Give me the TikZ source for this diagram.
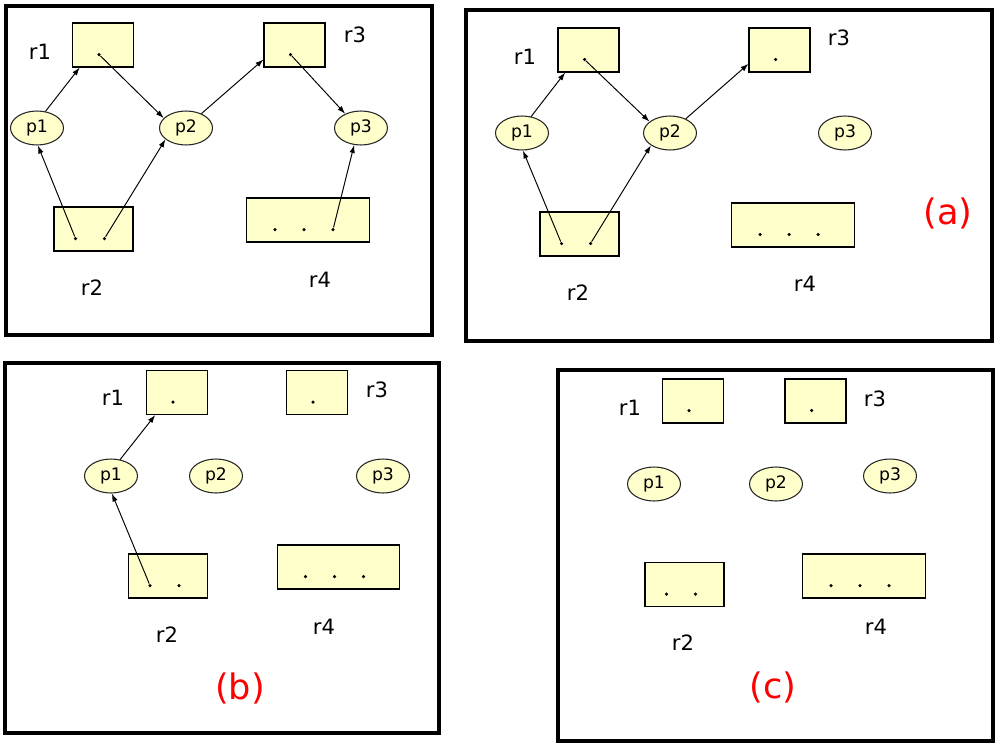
\documentclass[tikz,border=0pt]{standalone}
\usepackage{fontspec}
\setmainfont{DejaVu Sans}
\usetikzlibrary{shapes.geometric,arrows.meta}
\definecolor{boxfill}{HTML}{FFFFCC}
\begin{document}
\begin{tikzpicture}[x=0.02cm,y=-0.02cm,
  panel/.style={draw,line width=2pt},
  rbox/.style={draw,fill=boxfill,line width=0.6pt,minimum height=0.88cm,inner sep=0pt},
  sbox/.style={rbox,minimum width=1.22cm},
  mbox/.style={rbox,minimum width=1.58cm},
  wbox/.style={rbox,minimum width=2.45cm},
  proc/.style={ellipse,draw=black!85,fill=boxfill,line width=0.6pt,minimum width=1.06cm,minimum height=0.68cm,inner sep=0pt,font=\fontsize{9.8}{11}\selectfont},
  rdot/.style={circle,fill=black,inner sep=0pt,minimum size=0.07cm},
  lbl/.style={font=\fontsize{12}{14}\selectfont,inner sep=0pt},
  redtag/.style={font=\fontsize{20}{24}\selectfont,text=red,inner sep=0pt},
  arr/.style={-{Latex[length=1.6mm,width=1.1mm]},line width=0.55pt}]
\useasboundingbox (0,0) rectangle (1001,751);

% ---------- Panel A (top left) ----------
\draw[panel] (6,6) rectangle (432,335);
\node[sbox] (A-r1) at (103,45) {};
\node[sbox] (A-r3) at (294.5,45) {};
\node[mbox] (A-r2) at (93.5,229) {};
\node[wbox] (A-r4) at (308,220) {};
\node[proc] (A-p1) at (37,128) {p1};
\node[proc] (A-p2) at (186,128) {p2};
\node[proc] (A-p3) at (361,128) {p3};
\node[rdot] (A-r1d) at (99,54.5) {};
\node[rdot] (A-r3d) at (290.5,54.5) {};
\node[rdot] (A-r2d1) at (75.5,238.5) {};
\node[rdot] (A-r2d2) at (104.5,238.5) {};
\node[rdot] (A-r4d1) at (275,229.5) {};
\node[rdot] (A-r4d2) at (304,229.5) {};
\node[rdot] (A-r4d3) at (333,229.5) {};
\node[lbl] (A-l1) at (40,52) {r1};
\node[lbl] (A-l3) at (355,35) {r3};
\node[lbl] (A-l2) at (92,288) {r2};
\node[lbl] (A-l4) at (320,280) {r4};
\draw[arr] (A-p1.63) -- (A-r1.224);
\draw[arr] (A-r1d) -- (A-p2.156);
\draw[arr] (A-p2.43) -- (A-r3.205);
\draw[arr] (A-r3d) -- (A-p3.138);
\draw[arr] (A-r2d1) -- (A-p1.273);
\draw[arr] (A-r2d2) -- (A-p2.209);
\draw[arr] (A-r4d3) -- (A-p3.248);

% ---------- Panel B (a) ----------
\draw[panel] (466,10) rectangle (992,341);
\node[sbox] (B-r1) at (588.5,50) {};
\node[sbox] (B-r3) at (779.5,50) {};
\node[mbox] (B-r2) at (579.5,234) {};
\node[wbox] (B-r4) at (793,225) {};
\node[proc] (B-p1) at (522,133) {p1};
\node[proc] (B-p2) at (670,133) {p2};
\node[proc] (B-p3) at (845,133) {p3};
\node[rdot] (B-r1d) at (584.5,59.5) {};
\node[rdot] (B-r3d) at (775.5,59.5) {};
\node[rdot] (B-r2d1) at (561.5,243.5) {};
\node[rdot] (B-r2d2) at (590.5,243.5) {};
\node[rdot] (B-r4d1) at (760,234.5) {};
\node[rdot] (B-r4d2) at (789,234.5) {};
\node[rdot] (B-r4d3) at (818,234.5) {};
\node[lbl] (B-l1) at (525,57) {r1};
\node[lbl] (B-l3) at (839,38) {r3};
\node[lbl] (B-l2) at (578,293) {r2};
\node[lbl] (B-l4) at (805,284) {r4};
\node[redtag] (B-tag) at (948,213) {(a)};
\draw[arr] (B-p1.61) -- (B-r1.224);
\draw[arr] (B-r1d) -- (B-p2.151);
\draw[arr] (B-p2.42) -- (B-r3.204);
\draw[arr] (B-r2d1) -- (B-p1.273);
\draw[arr] (B-r2d2) -- (B-p2.213);

% ---------- Panel C (b) ----------
\draw[panel] (5,363) rectangle (439,733);
\node[sbox] (C-r1) at (177,392.5) {};
\node[sbox] (C-r3) at (317,392.5) {};
\node[mbox] (C-r2) at (168,576) {};
\node[wbox] (C-r4) at (338.5,567) {};
\node[proc] (C-p1) at (111,476) {p1};
\node[proc] (C-p2) at (216,476) {p2};
\node[proc] (C-p3) at (383,476) {p3};
\node[rdot] (C-r1d) at (173,402) {};
\node[rdot] (C-r3d) at (313,402) {};
\node[rdot] (C-r2d1) at (150,585.5) {};
\node[rdot] (C-r2d2) at (179,585.5) {};
\node[rdot] (C-r4d1) at (305.5,576.5) {};
\node[rdot] (C-r4d2) at (334.5,576.5) {};
\node[rdot] (C-r4d3) at (363.5,576.5) {};
\node[lbl] (C-l1) at (113,398) {r1};
\node[lbl] (C-l3) at (377,390) {r3};
\node[lbl] (C-l2) at (167,635) {r2};
\node[lbl] (C-l4) at (324,627) {r4};
\node[redtag] (C-tag) at (240,688) {(b)};
\draw[arr] (C-p1.61) -- (C-r1.226);
\draw[arr] (C-r2d1) -- (C-p1.273);

% ---------- Panel D (c) ----------
\draw[panel] (558,370) rectangle (993,741);
\node[sbox] (D-r1) at (693,401) {};
\node[sbox] (D-r3) at (815.5,401) {};
\node[mbox] (D-r2) at (684.5,584.5) {};
\node[wbox] (D-r4) at (864,576) {};
\node[proc] (D-p1) at (654,484) {p1};
\node[proc] (D-p2) at (776,484) {p2};
\node[proc] (D-p3) at (890,476) {p3};
\node[rdot] (D-r1d) at (689,410.5) {};
\node[rdot] (D-r3d) at (811.5,410.5) {};
\node[rdot] (D-r2d1) at (666.5,594) {};
\node[rdot] (D-r2d2) at (695.5,594) {};
\node[rdot] (D-r4d1) at (831,585.5) {};
\node[rdot] (D-r4d2) at (860,585.5) {};
\node[rdot] (D-r4d3) at (889,585.5) {};
\node[lbl] (D-l1) at (630,408) {r1};
\node[lbl] (D-l3) at (875,399) {r3};
\node[lbl] (D-l2) at (683,643) {r2};
\node[lbl] (D-l4) at (876,627) {r4};
\node[redtag] (D-tag) at (773,687) {(c)};
\end{tikzpicture}
\end{document}
